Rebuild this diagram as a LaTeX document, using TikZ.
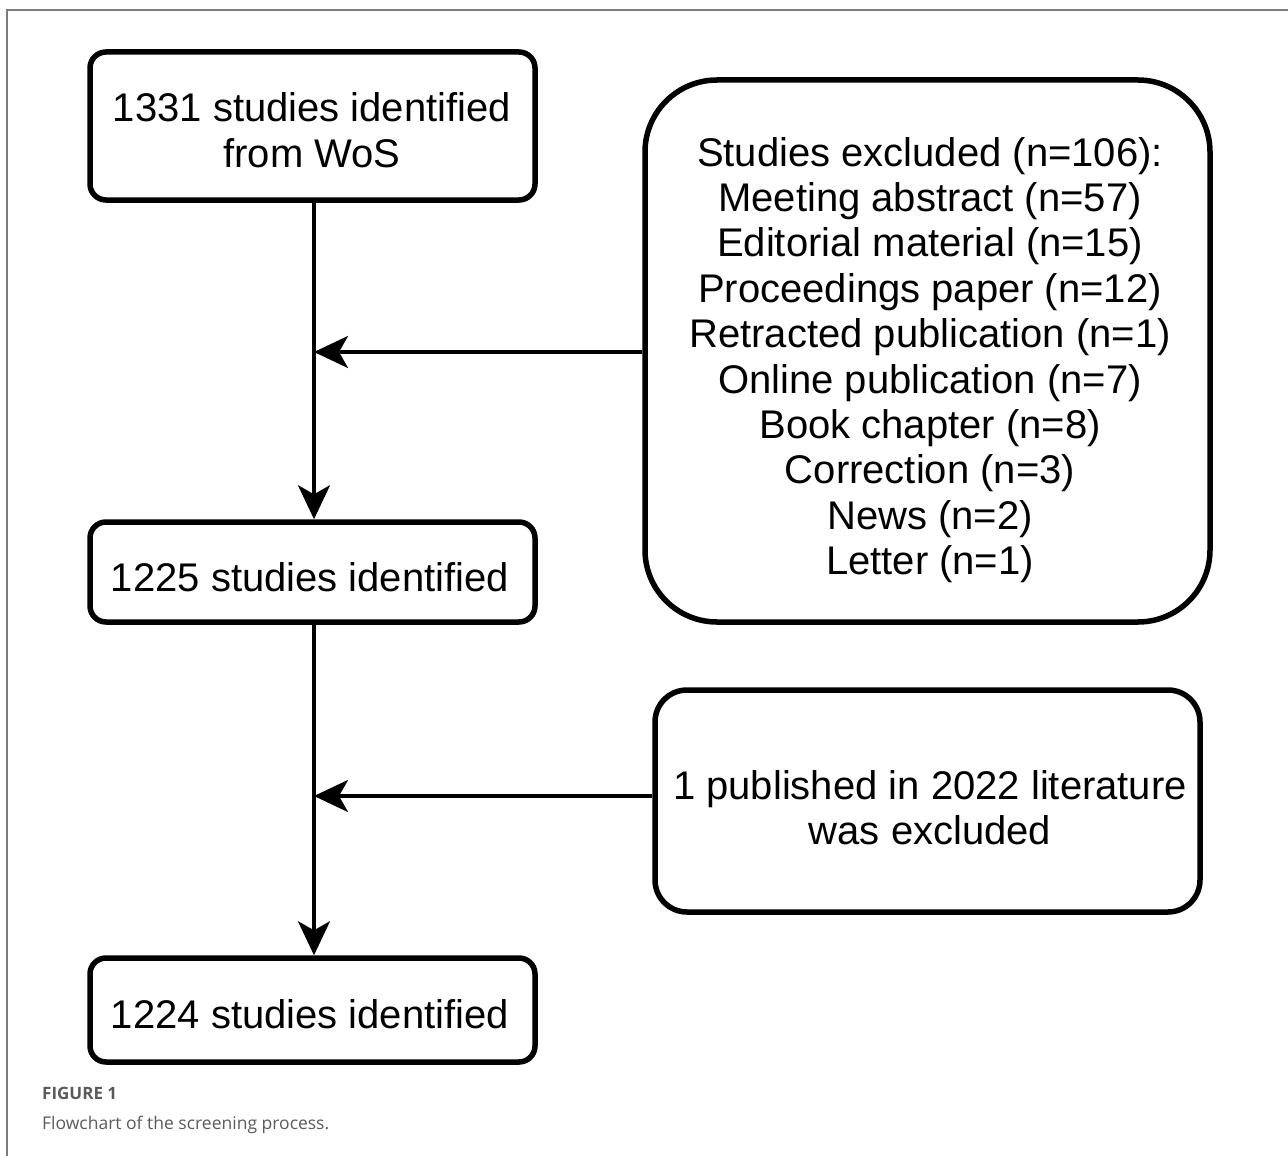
\documentclass[tikz,border=0pt]{standalone}
\usepackage{fontspec}
\setmainfont{Liberation Sans}
\newfontfamily\capfont{Open Sans}
\usetikzlibrary{arrows.meta}
\definecolor{capgray}{HTML}{5A5A5A}
\tikzset{
  box/.style={draw=black, line width=5.5pt, rounded corners=16pt, inner sep=0pt},
  txt/.style={align=center, inner sep=0pt, font=\fontsize{40}{45.5}\selectfont},
  conn/.style={line width=3.5pt, -{Stealth[length=34pt,width=32pt,inset=9pt]}}
}
\begin{document}
\begin{tikzpicture}[x=1pt,y=1pt]
\useasboundingbox (0,0) rectangle (1288,-1156);
\draw[capgray!80, line width=2pt] (7,-1156) -- (7,-10) -- (1288,-10);
% left column
\node[box, minimum width=445pt, minimum height=148pt] (b1) at (312.5,-126) {};
\node[txt] (b1t) at (312,-130) {1331 studies identified\\from WoS};
\node[box, minimum width=445pt, minimum height=100pt] (b2) at (312.5,-572) {};
\node[txt] (b2t) at (310,-577) {1225 studies identified};
\node[box, minimum width=445pt, minimum height=104pt] (b3) at (312.5,-1010) {};
\node[txt] (b3t) at (310,-1014) {1224 studies identified};
% right boxes
\node[box, rounded corners=72pt, minimum width=565pt, minimum height=542pt] (e1) at (927.5,-351) {};
\node[txt, font=\fontsize{40}{45.4}\selectfont] (e1t) at (930,-360) {Studies excluded (n=106):\\Meeting abstract (n=57)\\Editorial material (n=15)\\Proceedings paper (n=12)\\Retracted publication (n=1)\\Online publication (n=7)\\Book chapter (n=8)\\Correction (n=3)\\News (n=2)\\Letter (n=1)};
\node[box, rounded corners=32pt, minimum width=545pt, minimum height=222pt] (e2) at (927.5,-801) {};
\node[txt, font=\fontsize{40}{45}\selectfont] (e2t) at (930,-808) {1 published in 2022 literature\\was excluded};
% connectors
\coordinate (j1) at (314,-352);
\coordinate (j2) at (314,-796);
\draw[conn] (b1.south -| j1) -- (b2.north -| j1);
\draw[conn] (b2.south -| j1) -- (b3.north -| j1);
\draw[conn] (e1.west |- j1) -- (j1);
\draw[conn] (e2.west |- j2) -- (j2);
% caption
\node[anchor=west, inner sep=0pt, text=capgray, font=\capfont\bfseries\fontsize{17}{20}\selectfont] (cap1) at (42,-1093) {FIGURE 1};
\node[anchor=west, inner sep=0pt, text=capgray, font=\capfont\fontsize{17.5}{21}\selectfont] (cap2) at (42,-1125) {Flowchart of the screening process.};
\end{tikzpicture}
\end{document}
